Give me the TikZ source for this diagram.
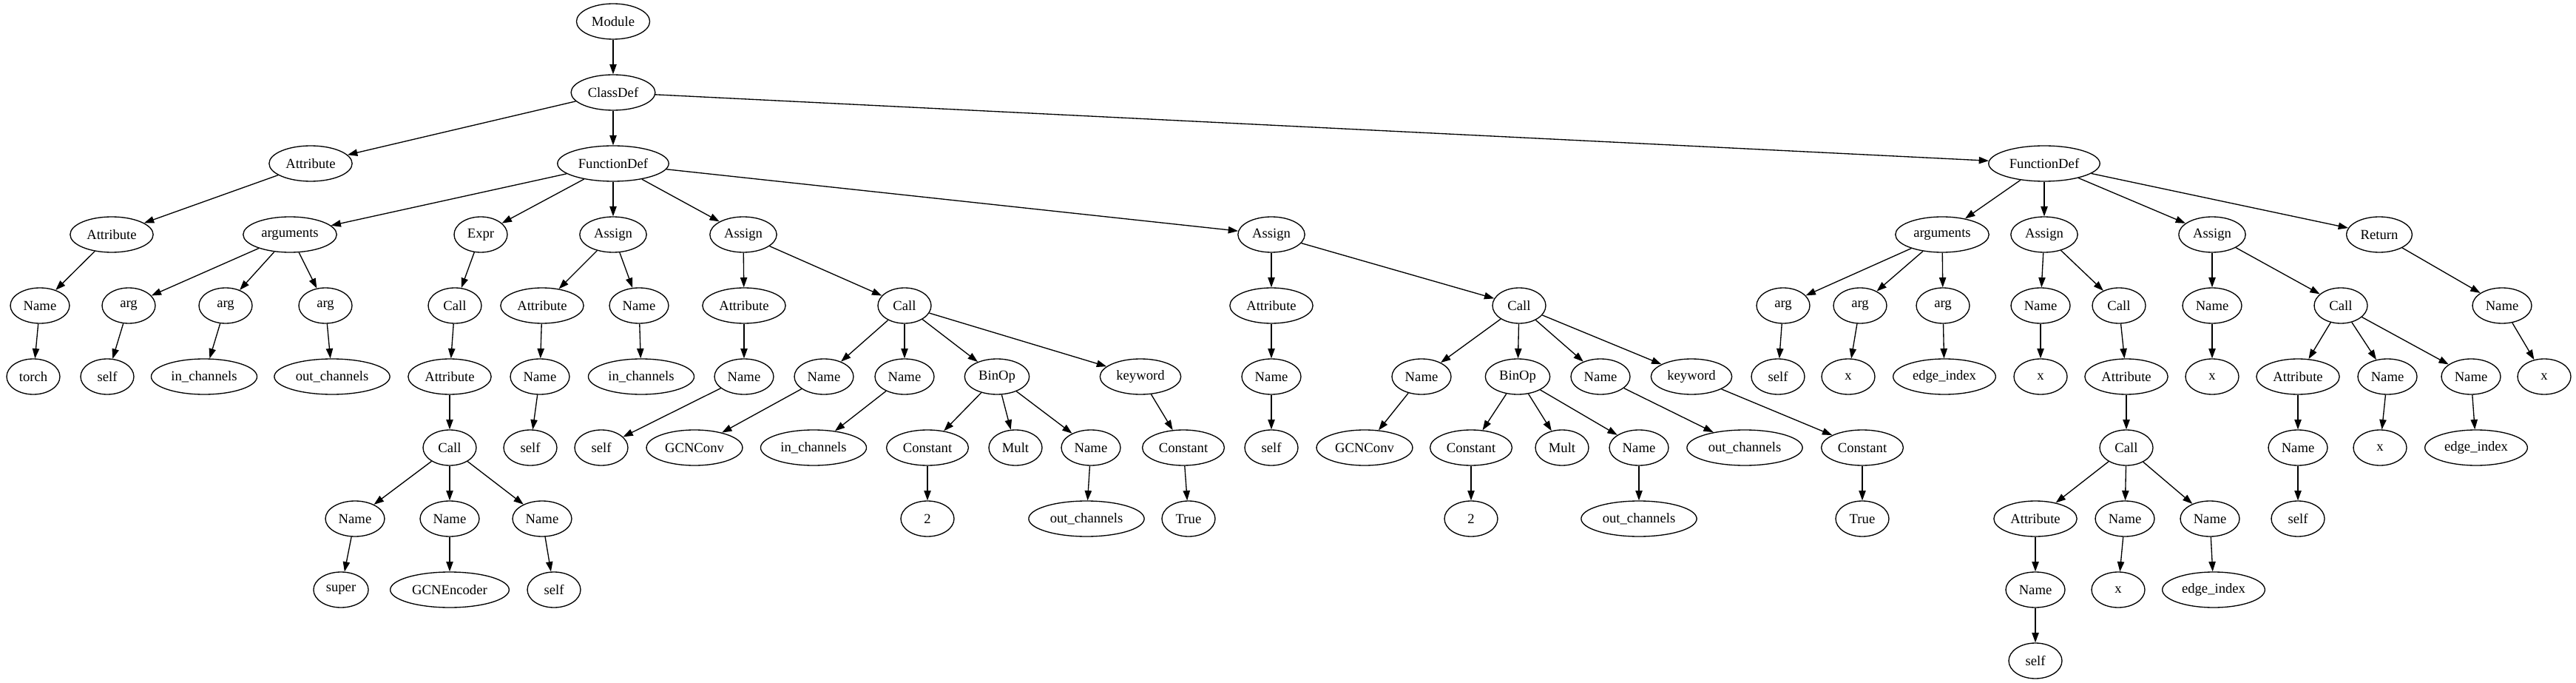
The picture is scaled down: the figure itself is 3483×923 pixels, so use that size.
\documentclass[tikz,border=0pt]{standalone}
\usepackage{fontspec}
\setmainfont{Liberation Serif}
\usetikzlibrary{shapes.geometric,arrows.meta}

\tikzset{every picture/.style={line width=1pt}}
\tikzset{
  ast/.style={draw, ellipse, minimum width=54pt, minimum height=36pt, inner xsep=4.5pt, inner ysep=2pt, font=\fontsize{14}{16}\selectfont},
  link/.style={-{Triangle[length=10pt,width=7pt]}}
}

\begin{document}
\begin{tikzpicture}[x=0.75pt,y=0.75pt,yscale=-1,xscale=1]
	\useasboundingbox (0,0) rectangle (3483,923);

	% Row 0-2
	\node[ast] (mod) at (829,29) {Module};
	\node[ast] (cls) at (829,125) {ClassDef};
	\node[ast] (attA) at (420,221) {Attribute};
	\node[ast] (fdA) at (829,221) {FunctionDef};
	\node[ast] (fdB) at (2764,221) {FunctionDef};

	% Row 3
	\node[ast] (attB) at (151,317) {Attribute};
	\node[ast] (argsA) at (392,317) {arguments};
	\node[ast] (expr) at (650,317) {Expr};
	\node[ast] (asA) at (829,317) {Assign};
	\node[ast] (asB) at (1005,317) {Assign};
	\node[ast] (asC) at (1719,317) {Assign};
	\node[ast] (argsB) at (2626,317) {arguments};
	\node[ast] (asD) at (2764,317) {Assign};
	\node[ast] (asE) at (2991,317) {Assign};
	\node[ast] (ret) at (3217,317) {Return};

	% Row 4
	\node[ast] (nmA) at (54,413) {Name};
	\node[ast] (argA1) at (174,413) {arg};
	\node[ast] (argA2) at (305,413) {arg};
	\node[ast] (argA3) at (440,413) {arg};
	\node[ast] (callA) at (615,413) {Call};
	\node[ast] (attC) at (733,413) {Attribute};
	\node[ast] (nmB) at (864,413) {Name};
	\node[ast] (attD) at (1006,413) {Attribute};
	\node[ast] (callB) at (1223,413) {Call};
	\node[ast] (attE) at (1719,413) {Attribute};
	\node[ast] (callC) at (2054,413) {Call};
	\node[ast] (argB1) at (2411,413) {arg};
	\node[ast] (argB2) at (2515,413) {arg};
	\node[ast] (argB3) at (2627,413) {arg};
	\node[ast] (nmC) at (2759,413) {Name};
	\node[ast] (callD) at (2865,413) {Call};
	\node[ast] (nmD) at (2991,413) {Name};
	\node[ast] (callE) at (3165,413) {Call};
	\node[ast] (nmE) at (3383,413) {Name};

	% Row 5
	\node[ast] (torch) at (45,509) {torch};
	\node[ast] (selfA) at (145,509) {self};
	\node[ast] (inA) at (276,509) {in\_channels};
	\node[ast] (outA) at (449,509) {out\_channels};
	\node[ast] (attF) at (608,509) {Attribute};
	\node[ast] (nmF) at (730,509) {Name};
	\node[ast] (inB) at (867,509) {in\_channels};
	\node[ast] (nmG) at (1006,509) {Name};
	\node[ast] (nmH) at (1114,509) {Name};
	\node[ast] (nmI) at (1223,509) {Name};
	\node[ast] (binA) at (1348,509) {BinOp};
	\node[ast] (kwA) at (1542,509) {keyword};
	\node[ast] (nmJ) at (1719,509) {Name};
	\node[ast] (nmK) at (1922,509) {Name};
	\node[ast] (binB) at (2052,509) {BinOp};
	\node[ast] (nmL) at (2164,509) {Name};
	\node[ast] (kwB) at (2287,509) {keyword};
	\node[ast] (selfB) at (2404,509) {self};
	\node[ast] (xA) at (2499,509) {x};
	\node[ast] (eiA) at (2629,509) {edge\_index};
	\node[ast] (xB) at (2759,509) {x};
	\node[ast] (attG) at (2875,509) {Attribute};
	\node[ast] (xC) at (2991,509) {x};
	\node[ast] (attH) at (3107,509) {Attribute};
	\node[ast] (nmM) at (3228,509) {Name};
	\node[ast] (nmN) at (3341,509) {Name};
	\node[ast] (xD) at (3440,509) {x};

	% Row 6
	\node[ast] (callF) at (608,605) {Call};
	\node[ast] (selfC) at (717,605) {self};
	\node[ast] (selfD) at (813,605) {self};
	\node[ast] (gcnA) at (939,605) {GCNConv};
	\node[ast] (inC) at (1100,605) {in\_channels};
	\node[ast] (cstA) at (1254,605) {Constant};
	\node[ast] (multA) at (1373,605) {Mult};
	\node[ast] (nmO) at (1475,605) {Name};
	\node[ast] (cstB) at (1600,605) {Constant};
	\node[ast] (selfE) at (1719,605) {self};
	\node[ast] (gcnB) at (1845,605) {GCNConv};
	\node[ast] (cstC) at (1989,605) {Constant};
	\node[ast] (multB) at (2112,605) {Mult};
	\node[ast] (nmP) at (2216,605) {Name};
	\node[ast] (outB) at (2359,605) {out\_channels};
	\node[ast] (cstD) at (2518,605) {Constant};
	\node[ast] (callG) at (2875,605) {Call};
	\node[ast] (nmQ) at (3107,605) {Name};
	\node[ast] (xE) at (3218,605) {x};
	\node[ast] (eiB) at (3348,605) {edge\_index};

	% Row 7-9
	\node[ast] (nmR) at (480,701) {Name};
	\node[ast] (nmS) at (608,701) {Name};
	\node[ast] (nmT) at (733,701) {Name};
	\node[ast] (twoA) at (1254,701) {2};
	\node[ast] (outC) at (1469,701) {out\_channels};
	\node[ast] (trueA) at (1607,701) {True};
	\node[ast] (twoB) at (1989,701) {2};
	\node[ast] (outD) at (2216,701) {out\_channels};
	\node[ast] (trueB) at (2518,701) {True};
	\node[ast] (attI) at (2752,701) {Attribute};
	\node[ast] (nmU) at (2873,701) {Name};
	\node[ast] (nmV) at (2988,701) {Name};
	\node[ast] (selfF) at (3107,701) {self};
	\node[ast] (super) at (461,797) {super};
	\node[ast] (gcnenc) at (608,797) {GCNEncoder};
	\node[ast] (selfG) at (749,797) {self};
	\node[ast] (nmW) at (2752,797) {Name};
	\node[ast] (xF) at (2864,797) {x};
	\node[ast] (eiC) at (2993,797) {edge\_index};
	\node[ast] (selfH) at (2752,893) {self};

	% Edges: class
	\draw[link] (mod) -- (cls);
	\draw[link] (cls) -- (attA);
	\draw[link] (cls) -- (fdA);
	\draw[link] (cls) -- (fdB);
	\draw[link] (attA) -- (attB);
	\draw[link] (attB) -- (nmA);
	\draw[link] (nmA) -- (torch);

	% Edges: first FunctionDef
	\draw[link] (fdA) -- (argsA);
	\draw[link] (fdA) -- (expr);
	\draw[link] (fdA) -- (asA);
	\draw[link] (fdA) -- (asB);
	\draw[link] (fdA) -- (asC);
	\draw[link] (argsA) -- (argA1);
	\draw[link] (argsA) -- (argA2);
	\draw[link] (argsA) -- (argA3);
	\draw[link] (argA1) -- (selfA);
	\draw[link] (argA2) -- (inA);
	\draw[link] (argA3) -- (outA);
	\draw[link] (expr) -- (callA);
	\draw[link] (callA) -- (attF);
	\draw[link] (attF) -- (callF);
	\draw[link] (callF) -- (nmR);
	\draw[link] (callF) -- (nmS);
	\draw[link] (callF) -- (nmT);
	\draw[link] (nmR) -- (super);
	\draw[link] (nmS) -- (gcnenc);
	\draw[link] (nmT) -- (selfG);
	\draw[link] (asA) -- (attC);
	\draw[link] (asA) -- (nmB);
	\draw[link] (attC) -- (nmF);
	\draw[link] (nmF) -- (selfC);
	\draw[link] (nmB) -- (inB);
	\draw[link] (asB) -- (attD);
	\draw[link] (asB) -- (callB);
	\draw[link] (attD) -- (nmG);
	\draw[link] (nmG) -- (selfD);
	\draw[link] (callB) -- (nmH);
	\draw[link] (callB) -- (nmI);
	\draw[link] (callB) -- (binA);
	\draw[link] (callB) -- (kwA);
	\draw[link] (nmH) -- (gcnA);
	\draw[link] (nmI) -- (inC);
	\draw[link] (binA) -- (cstA);
	\draw[link] (binA) -- (multA);
	\draw[link] (binA) -- (nmO);
	\draw[link] (cstA) -- (twoA);
	\draw[link] (nmO) -- (outC);
	\draw[link] (kwA) -- (cstB);
	\draw[link] (cstB) -- (trueA);
	\draw[link] (asC) -- (attE);
	\draw[link] (asC) -- (callC);
	\draw[link] (attE) -- (nmJ);
	\draw[link] (nmJ) -- (selfE);
	\draw[link] (callC) -- (nmK);
	\draw[link] (callC) -- (binB);
	\draw[link] (callC) -- (nmL);
	\draw[link] (callC) -- (kwB);
	\draw[link] (nmK) -- (gcnB);
	\draw[link] (binB) -- (cstC);
	\draw[link] (binB) -- (multB);
	\draw[link] (binB) -- (nmP);
	\draw[link] (cstC) -- (twoB);
	\draw[link] (nmP) -- (outD);
	\draw[link] (nmL) -- (outB);
	\draw[link] (kwB) -- (cstD);
	\draw[link] (cstD) -- (trueB);

	% Edges: second FunctionDef
	\draw[link] (fdB) -- (argsB);
	\draw[link] (fdB) -- (asD);
	\draw[link] (fdB) -- (asE);
	\draw[link] (fdB) -- (ret);
	\draw[link] (argsB) -- (argB1);
	\draw[link] (argsB) -- (argB2);
	\draw[link] (argsB) -- (argB3);
	\draw[link] (argB1) -- (selfB);
	\draw[link] (argB2) -- (xA);
	\draw[link] (argB3) -- (eiA);
	\draw[link] (asD) -- (nmC);
	\draw[link] (asD) -- (callD);
	\draw[link] (nmC) -- (xB);
	\draw[link] (callD) -- (attG);
	\draw[link] (attG) -- (callG);
	\draw[link] (callG) -- (attI);
	\draw[link] (callG) -- (nmU);
	\draw[link] (callG) -- (nmV);
	\draw[link] (attI) -- (nmW);
	\draw[link] (nmW) -- (selfH);
	\draw[link] (nmU) -- (xF);
	\draw[link] (nmV) -- (eiC);
	\draw[link] (asE) -- (nmD);
	\draw[link] (asE) -- (callE);
	\draw[link] (nmD) -- (xC);
	\draw[link] (callE) -- (attH);
	\draw[link] (callE) -- (nmM);
	\draw[link] (callE) -- (nmN);
	\draw[link] (attH) -- (nmQ);
	\draw[link] (nmQ) -- (selfF);
	\draw[link] (nmM) -- (xE);
	\draw[link] (nmN) -- (eiB);
	\draw[link] (ret) -- (nmE);
	\draw[link] (nmE) -- (xD);

\end{tikzpicture}
\end{document}
